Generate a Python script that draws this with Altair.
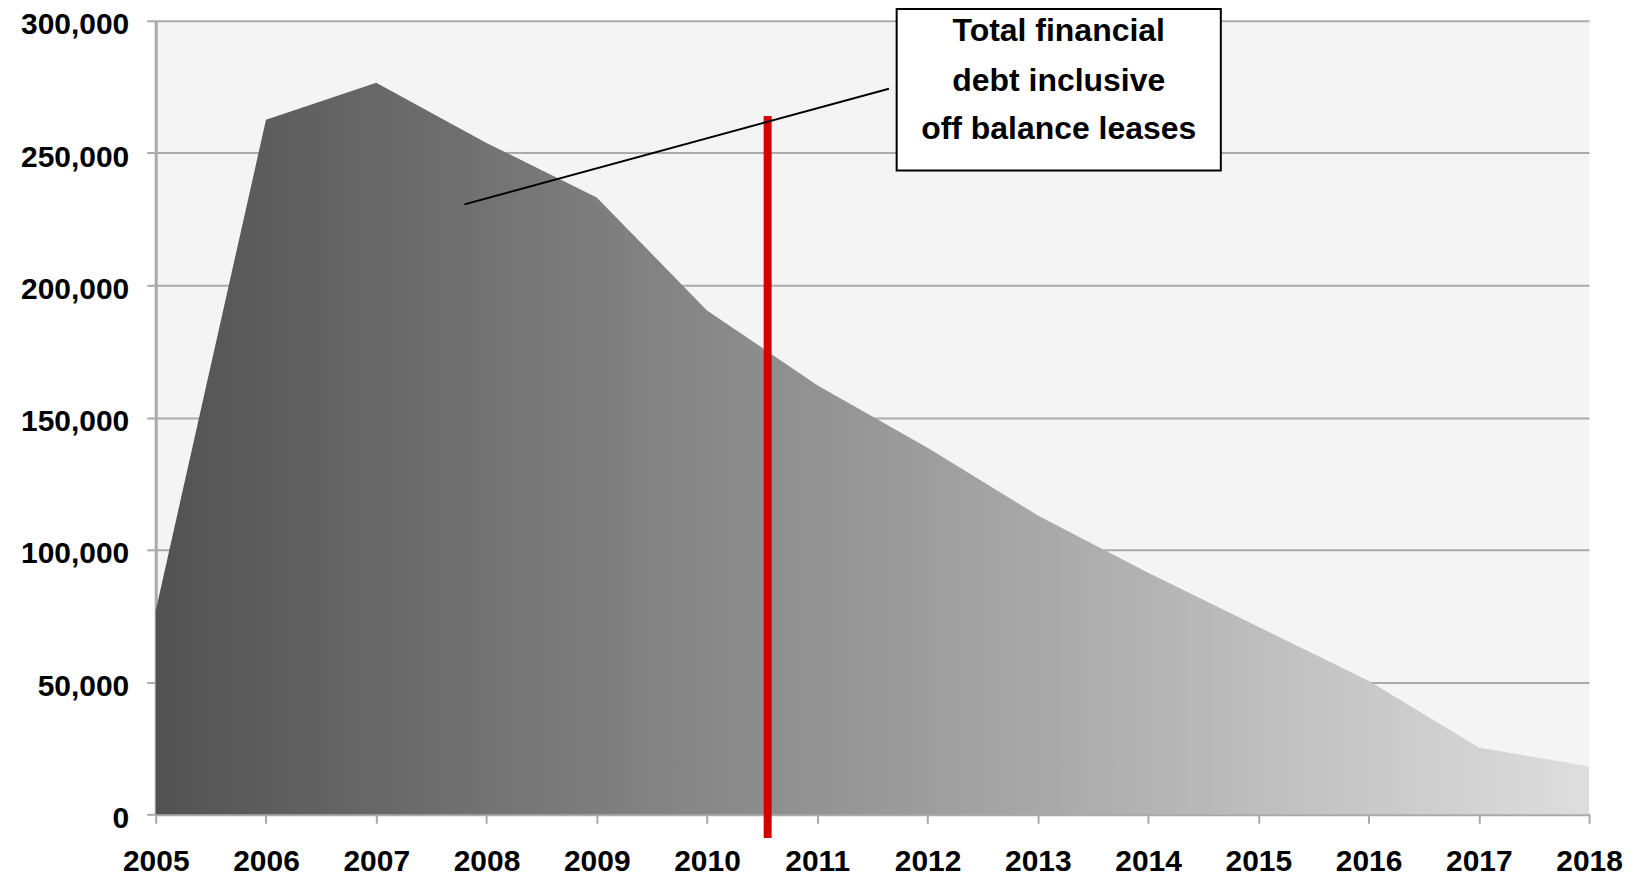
import altair as alt
import pandas as pd

years = [2005, 2006, 2007, 2008, 2009, 2010, 2011, 2012, 2013, 2014, 2015, 2016, 2017, 2018]
debt = [77000, 262600, 276600, 253800, 233200, 190500, 162200, 138600, 113000, 91300, 70900, 50500, 25300, 18100]

marker_year = [2010.55]
marker_top = [264000]
marker_bottom = [-9000]

label_lines = ["Total financial", "debt inclusive", "off balance leases"]
label_line_y = [296200, 277400, 259200]
label_x = [2013.19]
box_x = [2011.72]
box_x2 = [2014.66]
box_y = [304500]
box_y2 = [243400]
leader_x = [2007.80, 2011.65]
leader_y = [230600, 274300]

df = pd.DataFrame({"year": years, "debt": debt})
red_df = pd.DataFrame({"x": marker_year, "y": marker_top, "y2": marker_bottom})
box_df = pd.DataFrame({"x": box_x, "x2": box_x2, "y": box_y, "y2": box_y2})
text_df = pd.DataFrame({"x": label_x * 3, "y": label_line_y, "t": label_lines})
lead_df = pd.DataFrame({"x": leader_x, "y": leader_y})

xscale = alt.Scale(domain=[2005, 2018], nice=False, zero=False)
yscale = alt.Scale(domain=[0, 300000], nice=False)

grad = alt.Gradient(
    gradient="linear",
    stops=[alt.GradientStop(color="#525252", offset=0),
           alt.GradientStop(color="#dedede", offset=1)],
    x1=0, x2=1, y1=0, y2=0,
)

area = alt.Chart(df).mark_area(color=grad, line=False).encode(
    x=alt.X("year:Q", scale=xscale,
            axis=alt.Axis(values=years, format="d", title=None, labelFontSize=30,
                          labelColor="#000000", labelFont="Liberation Sans",
                          labelFontWeight="bold",
                          labelPadding=23, tickSize=9, tickColor="#aaaaaa", tickWidth=2,
                          domainColor="#aaaaaa", domainWidth=3, grid=False,
                          labelFlush=False, labelOverlap=False)),
    y=alt.Y("debt:Q", scale=yscale,
            axis=alt.Axis(values=[0, 50000, 100000, 150000, 200000, 250000, 300000],
                          format=",d", title=None, labelFontSize=30,
                          labelColor="#000000", labelFont="Liberation Sans",
                          labelFontWeight="bold", labelOffset=4,
                          labelPadding=18, tickSize=9, tickColor="#aaaaaa", tickWidth=2,
                          domainColor="#aaaaaa", domainWidth=3, grid=True,
                          gridColor="#aaaaaa", gridWidth=2, labelFlush=False)),
)

red = alt.Chart(red_df).mark_rule(color="#d40000", strokeWidth=8).encode(
    x=alt.X("x:Q", scale=xscale), y=alt.Y("y:Q", scale=yscale), y2="y2:Q"
)

leader = alt.Chart(lead_df).mark_line(color="#000000", strokeWidth=2).encode(
    x=alt.X("x:Q", scale=xscale), y=alt.Y("y:Q", scale=yscale)
)

box = alt.Chart(box_df).mark_rect(fill="#ffffff", stroke="#000000", strokeWidth=2).encode(
    x=alt.X("x:Q", scale=xscale), x2="x2:Q", y=alt.Y("y:Q", scale=yscale), y2="y2:Q"
)

text = alt.Chart(text_df).mark_text(
    font="Liberation Sans", fontSize=32, fontWeight="bold", color="#000000",
    align="center", baseline="middle"
).encode(x=alt.X("x:Q", scale=xscale), y=alt.Y("y:Q", scale=yscale), text="t:N")

chart = alt.layer(area, red, leader, box, text).properties(
    width=1436, height=795,
    autosize=alt.AutoSizeParams(type="none"),
    padding={"left": 148, "top": 12, "right": 40, "bottom": 65},
    background="#ffffff",
).configure_view(fill="#f4f4f4", stroke=None)

chart.save("out.html", embed_options={"renderer": "svg", "actions": False})
